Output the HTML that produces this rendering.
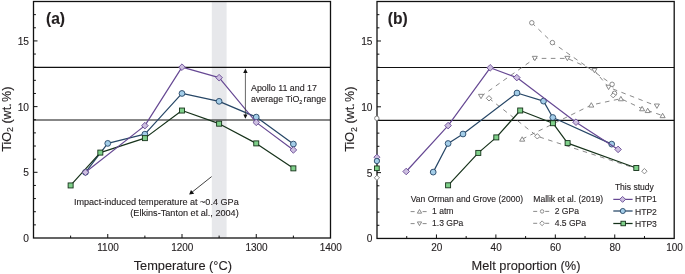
<!DOCTYPE html>
<html><head><meta charset="utf-8"><style>
html,body{margin:0;padding:0;background:#fff;width:685px;height:274px;overflow:hidden;}
svg{display:block;will-change:transform;}
text{font-family:"Liberation Sans", sans-serif;fill:#231f20;stroke:#231f20;stroke-width:0.12px;}
</style></head><body>
<svg width="685" height="274" viewBox="0 0 685 274">
<rect width="685" height="274" fill="#fff"/>
<rect x="211.8" y="2" width="14.8" height="235.5" fill="#e7e8eb"/>
<line x1="33.5" y1="67.40" x2="330.5" y2="67.40" stroke="#111" stroke-width="1.2"/>
<line x1="33.5" y1="120.00" x2="330.5" y2="120.00" stroke="#111" stroke-width="1.2"/>
<line x1="33.50" y1="224.86" x2="35.90" y2="224.86" stroke="#111" stroke-width="1"/>
<line x1="33.50" y1="211.72" x2="35.90" y2="211.72" stroke="#111" stroke-width="1"/>
<line x1="33.50" y1="198.58" x2="35.90" y2="198.58" stroke="#111" stroke-width="1"/>
<line x1="33.50" y1="185.44" x2="35.90" y2="185.44" stroke="#111" stroke-width="1"/>
<line x1="33.50" y1="172.31" x2="37.50" y2="172.31" stroke="#111" stroke-width="1"/>
<line x1="33.50" y1="159.17" x2="35.90" y2="159.17" stroke="#111" stroke-width="1"/>
<line x1="33.50" y1="146.03" x2="35.90" y2="146.03" stroke="#111" stroke-width="1"/>
<line x1="33.50" y1="132.89" x2="35.90" y2="132.89" stroke="#111" stroke-width="1"/>
<line x1="33.50" y1="119.75" x2="35.90" y2="119.75" stroke="#111" stroke-width="1"/>
<line x1="33.50" y1="106.61" x2="37.50" y2="106.61" stroke="#111" stroke-width="1"/>
<line x1="33.50" y1="93.47" x2="35.90" y2="93.47" stroke="#111" stroke-width="1"/>
<line x1="33.50" y1="80.33" x2="35.90" y2="80.33" stroke="#111" stroke-width="1"/>
<line x1="33.50" y1="67.19" x2="35.90" y2="67.19" stroke="#111" stroke-width="1"/>
<line x1="33.50" y1="54.06" x2="35.90" y2="54.06" stroke="#111" stroke-width="1"/>
<line x1="33.50" y1="40.92" x2="37.50" y2="40.92" stroke="#111" stroke-width="1"/>
<line x1="33.50" y1="27.78" x2="35.90" y2="27.78" stroke="#111" stroke-width="1"/>
<line x1="33.50" y1="14.64" x2="35.90" y2="14.64" stroke="#111" stroke-width="1"/>
<line x1="107.75" y1="238.00" x2="107.75" y2="234.00" stroke="#111" stroke-width="1"/>
<line x1="182.00" y1="238.00" x2="182.00" y2="234.00" stroke="#111" stroke-width="1"/>
<line x1="256.25" y1="238.00" x2="256.25" y2="234.00" stroke="#111" stroke-width="1"/>
<line x1="70.62" y1="238.00" x2="70.62" y2="235.60" stroke="#111" stroke-width="1"/>
<line x1="144.88" y1="238.00" x2="144.88" y2="235.60" stroke="#111" stroke-width="1"/>
<line x1="219.12" y1="238.00" x2="219.12" y2="235.60" stroke="#111" stroke-width="1"/>
<line x1="293.38" y1="238.00" x2="293.38" y2="235.60" stroke="#111" stroke-width="1"/>
<text x="29.00" y="242.00" font-size="10.2" text-anchor="end" font-weight="normal" >0</text>
<text x="29.00" y="176.31" font-size="10.2" text-anchor="end" font-weight="normal" >5</text>
<text x="29.00" y="110.61" font-size="10.2" text-anchor="end" font-weight="normal" >10</text>
<text x="29.00" y="44.92" font-size="10.2" text-anchor="end" font-weight="normal" >15</text>
<text x="108.05" y="251.40" font-size="10.0" text-anchor="middle" font-weight="normal" >1100</text>
<text x="182.30" y="251.40" font-size="10.0" text-anchor="middle" font-weight="normal" >1200</text>
<text x="256.55" y="251.40" font-size="10.0" text-anchor="middle" font-weight="normal" >1300</text>
<text x="330.80" y="251.40" font-size="10.0" text-anchor="middle" font-weight="normal" >1400</text>
<polyline points="85.47,172.30 107.75,143.39 144.88,134.19 182.00,93.46 219.12,101.34 256.25,117.11 293.38,144.05" fill="none" stroke="#264666" stroke-width="1.2" stroke-linejoin="round"/>
<circle cx="85.47" cy="172.30" r="2.9" fill="#a3cde8" stroke="#264666" stroke-width="0.9"/>
<circle cx="107.75" cy="143.39" r="2.9" fill="#a3cde8" stroke="#264666" stroke-width="0.9"/>
<circle cx="144.88" cy="134.19" r="2.9" fill="#a3cde8" stroke="#264666" stroke-width="0.9"/>
<circle cx="182.00" cy="93.46" r="2.9" fill="#a3cde8" stroke="#264666" stroke-width="0.9"/>
<circle cx="219.12" cy="101.34" r="2.9" fill="#a3cde8" stroke="#264666" stroke-width="0.9"/>
<circle cx="256.25" cy="117.11" r="2.9" fill="#a3cde8" stroke="#264666" stroke-width="0.9"/>
<circle cx="293.38" cy="144.05" r="2.9" fill="#a3cde8" stroke="#264666" stroke-width="0.9"/>
<polyline points="70.62,185.44 100.33,152.59 144.88,138.14 182.00,110.54 219.12,123.68 256.25,143.39 293.38,168.36" fill="none" stroke="#16321a" stroke-width="1.2" stroke-linejoin="round"/>
<rect x="68.12" y="182.94" width="5.00" height="5.00" fill="#7fd08a" stroke="#16321a" stroke-width="0.9"/>
<rect x="97.83" y="150.09" width="5.00" height="5.00" fill="#7fd08a" stroke="#16321a" stroke-width="0.9"/>
<rect x="142.38" y="135.64" width="5.00" height="5.00" fill="#7fd08a" stroke="#16321a" stroke-width="0.9"/>
<rect x="179.50" y="108.04" width="5.00" height="5.00" fill="#7fd08a" stroke="#16321a" stroke-width="0.9"/>
<rect x="216.62" y="121.18" width="5.00" height="5.00" fill="#7fd08a" stroke="#16321a" stroke-width="0.9"/>
<rect x="253.75" y="140.89" width="5.00" height="5.00" fill="#7fd08a" stroke="#16321a" stroke-width="0.9"/>
<rect x="290.88" y="165.86" width="5.00" height="5.00" fill="#7fd08a" stroke="#16321a" stroke-width="0.9"/>
<polyline points="85.47,172.30 144.88,125.65 182.00,67.18 219.12,77.69 256.25,122.37 293.38,149.96" fill="none" stroke="#664893" stroke-width="1.2" stroke-linejoin="round"/>
<path d="M85.47,169.00 L88.77,172.30 L85.47,175.60 L82.17,172.30 Z" fill="#cdbfe0" stroke="#664893" stroke-width="0.9"/>
<path d="M144.88,122.35 L148.18,125.65 L144.88,128.95 L141.57,125.65 Z" fill="#cdbfe0" stroke="#664893" stroke-width="0.9"/>
<path d="M182.00,63.88 L185.30,67.18 L182.00,70.48 L178.70,67.18 Z" fill="#cdbfe0" stroke="#664893" stroke-width="0.9"/>
<path d="M219.12,74.39 L222.43,77.69 L219.12,80.99 L215.82,77.69 Z" fill="#cdbfe0" stroke="#664893" stroke-width="0.9"/>
<path d="M256.25,119.07 L259.55,122.37 L256.25,125.67 L252.95,122.37 Z" fill="#cdbfe0" stroke="#664893" stroke-width="0.9"/>
<path d="M293.38,146.66 L296.68,149.96 L293.38,153.26 L290.07,149.96 Z" fill="#cdbfe0" stroke="#664893" stroke-width="0.9"/>
<rect x="33.50" y="1.5" width="297.00" height="236.50" fill="none" stroke="#111" stroke-width="1.3"/>
<line x1="245.4" y1="71" x2="245.4" y2="116" stroke="#333" stroke-width="0.75"/>
<path d="M245.4,68.5 L247.6,73.0 L243.20000000000002,73.0 Z" fill="#111"/>
<path d="M245.4,118.8 L247.5,114.4 L243.3,114.4 Z" fill="#111"/>
<text x="251.00" y="90.90" font-size="8.9" text-anchor="start" font-weight="normal" >Apollo 11 and 17</text>
<text x="251.00" y="102.40" font-size="8.9" text-anchor="start" font-weight="normal" >average TiO<tspan font-size="5.4" dy="1.9">2</tspan><tspan dy="-1.9" dx="1.1">range</tspan></text>
<line x1="211.6" y1="176.6" x2="192" y2="192.2" stroke="#111" stroke-width="0.8"/>
<path d="M189.1,194.5 L191.0,189.9 L194.2,193.8 Z" fill="#111"/>
<text x="238.70" y="204.60" font-size="9.08" text-anchor="end" font-weight="normal" >Impact-induced temperature at ~0.4 GPa</text>
<text x="238.70" y="215.70" font-size="9.12" text-anchor="end" font-weight="normal" >(Elkins-Tanton et al., 2004)</text>
<text x="46.00" y="23.60" font-size="15.6" text-anchor="start" font-weight="bold" >(a)</text>
<text x="182.80" y="270.00" font-size="12.8" text-anchor="middle" font-weight="normal" >Temperature (°C)</text>
<text transform="translate(10.6,119.2) rotate(-90)" font-size="12.6" text-anchor="middle">TiO<tspan font-size="8.7" dy="2.5">2</tspan><tspan dy="-2.5"> (wt.</tspan><tspan dx="1.3">%)</tspan></text>
<line x1="377.0" y1="67.50" x2="674.2" y2="67.50" stroke="#111" stroke-width="1.2"/>
<line x1="377.0" y1="120.45" x2="674.2" y2="120.45" stroke="#111" stroke-width="1.2"/>
<line x1="377.00" y1="225.29" x2="379.40" y2="225.29" stroke="#111" stroke-width="1"/>
<line x1="377.00" y1="212.12" x2="379.40" y2="212.12" stroke="#111" stroke-width="1"/>
<line x1="377.00" y1="198.96" x2="379.40" y2="198.96" stroke="#111" stroke-width="1"/>
<line x1="377.00" y1="185.79" x2="379.40" y2="185.79" stroke="#111" stroke-width="1"/>
<line x1="377.00" y1="172.63" x2="381.00" y2="172.63" stroke="#111" stroke-width="1"/>
<line x1="377.00" y1="159.47" x2="379.40" y2="159.47" stroke="#111" stroke-width="1"/>
<line x1="377.00" y1="146.30" x2="379.40" y2="146.30" stroke="#111" stroke-width="1"/>
<line x1="377.00" y1="133.14" x2="379.40" y2="133.14" stroke="#111" stroke-width="1"/>
<line x1="377.00" y1="119.97" x2="379.40" y2="119.97" stroke="#111" stroke-width="1"/>
<line x1="377.00" y1="106.81" x2="381.00" y2="106.81" stroke="#111" stroke-width="1"/>
<line x1="377.00" y1="93.65" x2="379.40" y2="93.65" stroke="#111" stroke-width="1"/>
<line x1="377.00" y1="80.48" x2="379.40" y2="80.48" stroke="#111" stroke-width="1"/>
<line x1="377.00" y1="67.32" x2="379.40" y2="67.32" stroke="#111" stroke-width="1"/>
<line x1="377.00" y1="54.16" x2="379.40" y2="54.16" stroke="#111" stroke-width="1"/>
<line x1="377.00" y1="40.99" x2="381.00" y2="40.99" stroke="#111" stroke-width="1"/>
<line x1="377.00" y1="27.83" x2="379.40" y2="27.83" stroke="#111" stroke-width="1"/>
<line x1="377.00" y1="14.66" x2="379.40" y2="14.66" stroke="#111" stroke-width="1"/>
<line x1="436.44" y1="238.45" x2="436.44" y2="234.45" stroke="#111" stroke-width="1"/>
<line x1="495.88" y1="238.45" x2="495.88" y2="234.45" stroke="#111" stroke-width="1"/>
<line x1="555.32" y1="238.45" x2="555.32" y2="234.45" stroke="#111" stroke-width="1"/>
<line x1="614.76" y1="238.45" x2="614.76" y2="234.45" stroke="#111" stroke-width="1"/>
<line x1="406.72" y1="238.45" x2="406.72" y2="236.05" stroke="#111" stroke-width="1"/>
<line x1="466.16" y1="238.45" x2="466.16" y2="236.05" stroke="#111" stroke-width="1"/>
<line x1="525.60" y1="238.45" x2="525.60" y2="236.05" stroke="#111" stroke-width="1"/>
<line x1="585.04" y1="238.45" x2="585.04" y2="236.05" stroke="#111" stroke-width="1"/>
<line x1="644.48" y1="238.45" x2="644.48" y2="236.05" stroke="#111" stroke-width="1"/>
<text x="372.50" y="242.45" font-size="10.2" text-anchor="end" font-weight="normal" >0</text>
<text x="372.50" y="176.63" font-size="10.2" text-anchor="end" font-weight="normal" >5</text>
<text x="372.50" y="110.81" font-size="10.2" text-anchor="end" font-weight="normal" >10</text>
<text x="372.50" y="44.99" font-size="10.2" text-anchor="end" font-weight="normal" >15</text>
<text x="436.74" y="251.40" font-size="10.0" text-anchor="middle" font-weight="normal" >20</text>
<text x="496.18" y="251.40" font-size="10.0" text-anchor="middle" font-weight="normal" >40</text>
<text x="555.62" y="251.40" font-size="10.0" text-anchor="middle" font-weight="normal" >60</text>
<text x="615.06" y="251.40" font-size="10.0" text-anchor="middle" font-weight="normal" >80</text>
<text x="674.50" y="251.40" font-size="10.0" text-anchor="middle" font-weight="normal" >100</text>
<polyline points="481.00,96.40 534.80,58.40 567.40,58.40 594.50,70.50 608.60,87.30 656.90,106.10" fill="none" stroke="#7d7d7d" stroke-width="0.9" stroke-dasharray="4.6 4.5" stroke-linejoin="round"/>
<polyline points="522.20,139.10 591.30,105.00 620.90,98.70 642.10,108.70 647.70,110.50 662.60,115.60" fill="none" stroke="#7d7d7d" stroke-width="0.9" stroke-dasharray="4.6 4.5" stroke-linejoin="round"/>
<polyline points="531.80,22.80 552.40,42.60 612.10,84.30 614.50,93.30" fill="none" stroke="#7d7d7d" stroke-width="0.9" stroke-dasharray="4.6 4.5" stroke-linejoin="round"/>
<polyline points="489.00,98.30 537.30,136.30 644.40,171.20" fill="none" stroke="#7d7d7d" stroke-width="0.9" stroke-dasharray="4.6 4.5" stroke-linejoin="round"/>
<path d="M481.00,98.70 L483.53,94.33 L478.47,94.33 Z" fill="#fff" stroke="#7d7d7d" stroke-width="0.9"/>
<path d="M534.80,60.70 L537.33,56.33 L532.27,56.33 Z" fill="#fff" stroke="#7d7d7d" stroke-width="0.9"/>
<path d="M567.40,60.70 L569.93,56.33 L564.87,56.33 Z" fill="#fff" stroke="#7d7d7d" stroke-width="0.9"/>
<path d="M594.50,72.80 L597.03,68.43 L591.97,68.43 Z" fill="#fff" stroke="#7d7d7d" stroke-width="0.9"/>
<path d="M608.60,89.60 L611.13,85.23 L606.07,85.23 Z" fill="#fff" stroke="#7d7d7d" stroke-width="0.9"/>
<path d="M656.90,108.40 L659.43,104.03 L654.37,104.03 Z" fill="#fff" stroke="#7d7d7d" stroke-width="0.9"/>
<path d="M522.20,136.80 L524.73,141.17 L519.67,141.17 Z" fill="#fff" stroke="#7d7d7d" stroke-width="0.9"/>
<path d="M591.30,102.70 L593.83,107.07 L588.77,107.07 Z" fill="#fff" stroke="#7d7d7d" stroke-width="0.9"/>
<path d="M620.90,96.40 L623.43,100.77 L618.37,100.77 Z" fill="#fff" stroke="#7d7d7d" stroke-width="0.9"/>
<path d="M642.10,106.40 L644.63,110.77 L639.57,110.77 Z" fill="#fff" stroke="#7d7d7d" stroke-width="0.9"/>
<path d="M647.70,108.20 L650.23,112.57 L645.17,112.57 Z" fill="#fff" stroke="#7d7d7d" stroke-width="0.9"/>
<path d="M662.60,113.30 L665.13,117.67 L660.07,117.67 Z" fill="#fff" stroke="#7d7d7d" stroke-width="0.9"/>
<circle cx="531.80" cy="22.80" r="2.25" fill="#fff" stroke="#7d7d7d" stroke-width="0.9"/>
<circle cx="552.40" cy="42.60" r="2.25" fill="#fff" stroke="#7d7d7d" stroke-width="0.9"/>
<circle cx="612.10" cy="84.30" r="2.25" fill="#fff" stroke="#7d7d7d" stroke-width="0.9"/>
<circle cx="614.50" cy="93.30" r="2.25" fill="#fff" stroke="#7d7d7d" stroke-width="0.9"/>
<path d="M489.00,95.60 L491.70,98.30 L489.00,101.00 L486.30,98.30 Z" fill="#fff" stroke="#7d7d7d" stroke-width="0.9"/>
<path d="M537.30,133.60 L540.00,136.30 L537.30,139.00 L534.60,136.30 Z" fill="#fff" stroke="#7d7d7d" stroke-width="0.9"/>
<path d="M644.40,168.50 L647.10,171.20 L644.40,173.90 L641.70,171.20 Z" fill="#fff" stroke="#7d7d7d" stroke-width="0.9"/>
<path d="M613.20,92.90 L615.70,95.40 L613.20,97.90 L610.70,95.40 Z" fill="#fff" stroke="#7d7d7d" stroke-width="0.9"/>
<polyline points="433.20,172.10 448.10,143.50 463.00,134.00 517.00,93.00 543.50,101.10 552.80,117.50 611.70,144.10" fill="none" stroke="#264666" stroke-width="1.2" stroke-linejoin="round"/>
<circle cx="433.20" cy="172.10" r="2.9" fill="#a3cde8" stroke="#264666" stroke-width="0.9"/>
<circle cx="448.10" cy="143.50" r="2.9" fill="#a3cde8" stroke="#264666" stroke-width="0.9"/>
<circle cx="463.00" cy="134.00" r="2.9" fill="#a3cde8" stroke="#264666" stroke-width="0.9"/>
<circle cx="517.00" cy="93.00" r="2.9" fill="#a3cde8" stroke="#264666" stroke-width="0.9"/>
<circle cx="543.50" cy="101.10" r="2.9" fill="#a3cde8" stroke="#264666" stroke-width="0.9"/>
<circle cx="552.80" cy="117.50" r="2.9" fill="#a3cde8" stroke="#264666" stroke-width="0.9"/>
<circle cx="611.70" cy="144.10" r="2.9" fill="#a3cde8" stroke="#264666" stroke-width="0.9"/>
<polyline points="448.10,185.30 478.30,152.90 496.30,137.40 520.20,110.50 552.90,123.20 567.60,143.10 636.30,168.00" fill="none" stroke="#16321a" stroke-width="1.2" stroke-linejoin="round"/>
<rect x="445.60" y="182.80" width="5.00" height="5.00" fill="#7fd08a" stroke="#16321a" stroke-width="0.9"/>
<rect x="475.80" y="150.40" width="5.00" height="5.00" fill="#7fd08a" stroke="#16321a" stroke-width="0.9"/>
<rect x="493.80" y="134.90" width="5.00" height="5.00" fill="#7fd08a" stroke="#16321a" stroke-width="0.9"/>
<rect x="517.70" y="108.00" width="5.00" height="5.00" fill="#7fd08a" stroke="#16321a" stroke-width="0.9"/>
<rect x="550.40" y="120.70" width="5.00" height="5.00" fill="#7fd08a" stroke="#16321a" stroke-width="0.9"/>
<rect x="565.10" y="140.60" width="5.00" height="5.00" fill="#7fd08a" stroke="#16321a" stroke-width="0.9"/>
<rect x="633.80" y="165.50" width="5.00" height="5.00" fill="#7fd08a" stroke="#16321a" stroke-width="0.9"/>
<polyline points="406.20,171.50 448.10,125.60 490.20,67.80 516.80,77.60 576.00,122.20 618.10,149.40" fill="none" stroke="#664893" stroke-width="1.2" stroke-linejoin="round"/>
<path d="M406.20,168.20 L409.50,171.50 L406.20,174.80 L402.90,171.50 Z" fill="#cdbfe0" stroke="#664893" stroke-width="0.9"/>
<path d="M448.10,122.30 L451.40,125.60 L448.10,128.90 L444.80,125.60 Z" fill="#cdbfe0" stroke="#664893" stroke-width="0.9"/>
<path d="M490.20,64.50 L493.50,67.80 L490.20,71.10 L486.90,67.80 Z" fill="#cdbfe0" stroke="#664893" stroke-width="0.9"/>
<path d="M516.80,74.30 L520.10,77.60 L516.80,80.90 L513.50,77.60 Z" fill="#cdbfe0" stroke="#664893" stroke-width="0.9"/>
<path d="M576.00,118.90 L579.30,122.20 L576.00,125.50 L572.70,122.20 Z" fill="#cdbfe0" stroke="#664893" stroke-width="0.9"/>
<path d="M618.10,146.10 L621.40,149.40 L618.10,152.70 L614.80,149.40 Z" fill="#cdbfe0" stroke="#664893" stroke-width="0.9"/>
<rect x="377.00" y="1.5" width="297.20" height="236.95" fill="none" stroke="#111" stroke-width="1.3"/>
<circle cx="376.80" cy="118.30" r="2.2" fill="#fff" stroke="#7d7d7d" stroke-width="0.9"/>
<path d="M376.90,154.20 L379.90,157.20 L376.90,160.20 L373.90,157.20 Z" fill="#cdbfe0" stroke="#664893" stroke-width="0.9"/>
<circle cx="376.90" cy="161.00" r="2.65" fill="#a3cde8" stroke="#264666" stroke-width="0.9"/>
<rect x="374.55" y="165.95" width="4.70" height="4.70" fill="#7fd08a" stroke="#16321a" stroke-width="0.9"/>
<path d="M376.90,175.20 L379.50,177.80 L376.90,180.40 L374.30,177.80 Z" fill="#fff" stroke="#7d7d7d" stroke-width="0.9"/>
<text x="387.70" y="23.60" font-size="15.6" text-anchor="start" font-weight="bold" >(b)</text>
<text x="526.00" y="270.00" font-size="12.8" text-anchor="middle" font-weight="normal" >Melt proportion (%)</text>
<text transform="translate(354.1,119.2) rotate(-90)" font-size="12.6" text-anchor="middle">TiO<tspan font-size="8.7" dy="2.5">2</tspan><tspan dy="-2.5"> (wt.</tspan><tspan dx="1.3">%)</tspan></text>
<text x="410.70" y="202.00" font-size="8.55" text-anchor="start" font-weight="normal" >Van Orman and Grove (2000)</text>
<line x1="410.6" y1="211.6" x2="414.6" y2="211.6" stroke="#7d7d7d" stroke-width="0.9"/>
<line x1="422.6" y1="211.6" x2="426.6" y2="211.6" stroke="#7d7d7d" stroke-width="0.9"/>
<path d="M419.50,209.45 L421.64,213.16 L417.36,213.16 Z" fill="#fff" stroke="#7d7d7d" stroke-width="0.9"/>
<text x="432.00" y="214.20" font-size="8.55" text-anchor="start" font-weight="normal" >1 atm</text>
<line x1="410.6" y1="223.6" x2="414.6" y2="223.6" stroke="#7d7d7d" stroke-width="0.9"/>
<line x1="422.6" y1="223.6" x2="426.6" y2="223.6" stroke="#7d7d7d" stroke-width="0.9"/>
<path d="M419.50,225.65 L421.64,221.94 L417.36,221.94 Z" fill="#fff" stroke="#7d7d7d" stroke-width="0.9"/>
<text x="432.00" y="225.90" font-size="8.55" text-anchor="start" font-weight="normal" >1.3 GPa</text>
<text x="533.30" y="202.00" font-size="8.55" text-anchor="start" font-weight="normal" >Mallik et al. (2019)</text>
<line x1="533.2" y1="211.4" x2="537.2" y2="211.4" stroke="#7d7d7d" stroke-width="0.9"/>
<line x1="545.2" y1="211.4" x2="549.2" y2="211.4" stroke="#7d7d7d" stroke-width="0.9"/>
<circle cx="542.10" cy="211.40" r="1.75" fill="#fff" stroke="#7d7d7d" stroke-width="0.85"/>
<text x="554.70" y="214.20" font-size="8.55" text-anchor="start" font-weight="normal" >2 GPa</text>
<line x1="533.2" y1="223.3" x2="537.2" y2="223.3" stroke="#7d7d7d" stroke-width="0.9"/>
<line x1="545.2" y1="223.3" x2="549.2" y2="223.3" stroke="#7d7d7d" stroke-width="0.9"/>
<path d="M542.10,220.90 L544.50,223.30 L542.10,225.70 L539.70,223.30 Z" fill="#fff" stroke="#7d7d7d" stroke-width="0.85"/>
<text x="554.70" y="225.90" font-size="8.55" text-anchor="start" font-weight="normal" >4.5 GPa</text>
<text x="614.90" y="190.30" font-size="8.55" text-anchor="start" font-weight="normal" >This study</text>
<line x1="613.3" y1="199.4" x2="632.6" y2="199.4" stroke="#664893" stroke-width="1.25"/>
<path d="M622.60,196.45 L625.55,199.40 L622.60,202.35 L619.65,199.40 Z" fill="#cdbfe0" stroke="#664893" stroke-width="0.9"/>
<text x="635.00" y="202.00" font-size="8.55" text-anchor="start" font-weight="normal" >HTP1</text>
<line x1="613.3" y1="211.0" x2="632.6" y2="211.0" stroke="#264666" stroke-width="1.25"/>
<circle cx="622.80" cy="211.00" r="2.55" fill="#a3cde8" stroke="#264666" stroke-width="0.9"/>
<text x="635.00" y="214.60" font-size="8.55" text-anchor="start" font-weight="normal" >HTP2</text>
<line x1="613.3" y1="223.5" x2="632.6" y2="223.5" stroke="#16321a" stroke-width="1.25"/>
<rect x="620.95" y="221.25" width="4.50" height="4.50" fill="#7fd08a" stroke="#16321a" stroke-width="0.9"/>
<text x="635.00" y="227.00" font-size="8.55" text-anchor="start" font-weight="normal" >HTP3</text>
</svg>
</body></html>
